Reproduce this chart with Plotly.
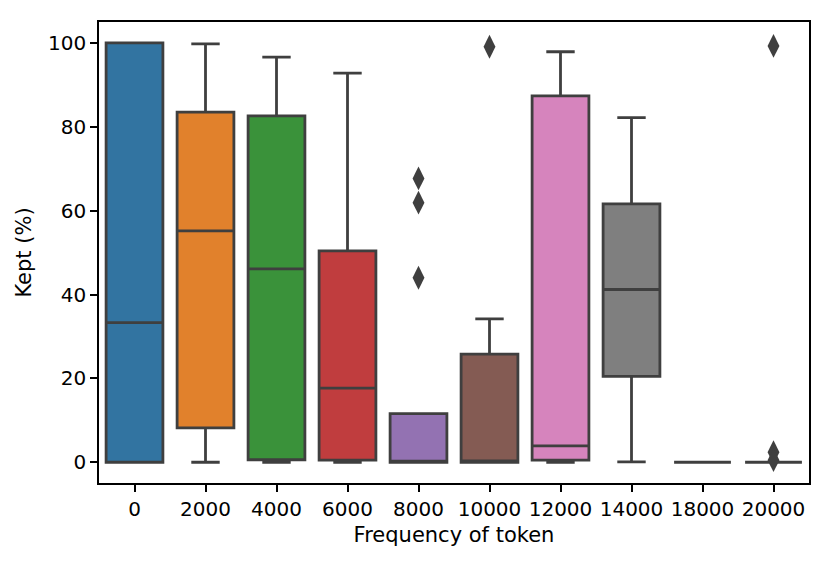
import plotly.graph_objs as go

# Данные
categories = ['0', '2000', '4000', '6000', '8000', '10000', '12000', '14000', '18000', '20000']
q1 = [0, 8.2, 0.6, 0.5, 0, 0, 0.5, 20.5, 0, 0]
median = [33.3, 55.2, 46.1, 17.7, 0.2, 0.3, 3.9, 41.2, 0, 0]
q3 = [100, 83.5, 82.6, 50.4, 11.6, 25.8, 87.4, 61.6, 0, 0]
lower_whisker = [0, 0, 0, 0, 0, 0, 0, 0.1, 0, 0]
upper_whisker = [100, 99.8, 96.6, 92.8, 11.6, 34.2, 97.9, 82.2, 0, 0]
colors = ['#3274a1', '#e1812c', '#3a923a', '#c03d3e', '#9372b2',
          '#845b53', '#d684bd', '#7f7f7f', '#a9aa35', '#3ebcd2']

# Выбросы
outlier_cat = [4, 4, 4, 5, 9, 9, 9]
outlier_val = [67.7, 61.9, 44.0, 99.1, 99.3, 2.4, 0.5]

line_color = '#3f3f3f'

fig = go.Figure()
for i, name in enumerate(categories):
    fig.add_trace(go.Box(
        x=[i],
        q1=[q1[i]],
        median=[median[i]],
        q3=[q3[i]],
        lowerfence=[lower_whisker[i]],
        upperfence=[upper_whisker[i]],
        name=name,
        width=0.8,
        whiskerwidth=0.5,
        fillcolor=colors[i],
        line=dict(color=line_color, width=2.8),
        boxpoints=False,
        showlegend=False,
    ))

# Выбросы ромбиками
fig.add_trace(go.Scatter(
    x=outlier_cat,
    y=outlier_val,
    mode='markers',
    marker=dict(symbol='diamond-tall', size=17, color=line_color),
    showlegend=False,
))

font = dict(family='DejaVu Sans', size=20, color='black')
title_font = dict(family='DejaVu Sans', size=21, color='black')

# страница имеет отступ 8px, поэтому поля чуть меньше
fig.update_layout(
    width=823,
    height=555,
    margin=dict(l=91, r=22, t=14, b=80),
    plot_bgcolor='white',
    paper_bgcolor='white',
    font=font,
    boxmode='overlay',
    xaxis=dict(
        title=dict(text='Frequency of token', font=title_font, standoff=8),
        tickmode='array',
        tickvals=list(range(len(categories))),
        ticktext=categories,
        range=[-0.5, 9.5],
        showgrid=False,
        zeroline=False,
        showline=True,
        mirror=True,
        linecolor='black',
        linewidth=1.6,
        ticks='outside',
        ticklen=7,
        tickwidth=1.6,
        tickcolor='black',
        tickfont=font,
    ),
    yaxis=dict(
        title=dict(text='Kept (%)', font=title_font, standoff=11),
        range=[-4.95, 105],
        tickvals=[0, 20, 40, 60, 80, 100],
        showgrid=False,
        zeroline=False,
        showline=True,
        mirror=True,
        linecolor='black',
        linewidth=1.6,
        ticks='outside',
        ticklen=7,
        tickwidth=1.6,
        tickcolor='black',
        tickfont=font,
    ),
)

fig.write_html("out.html")
